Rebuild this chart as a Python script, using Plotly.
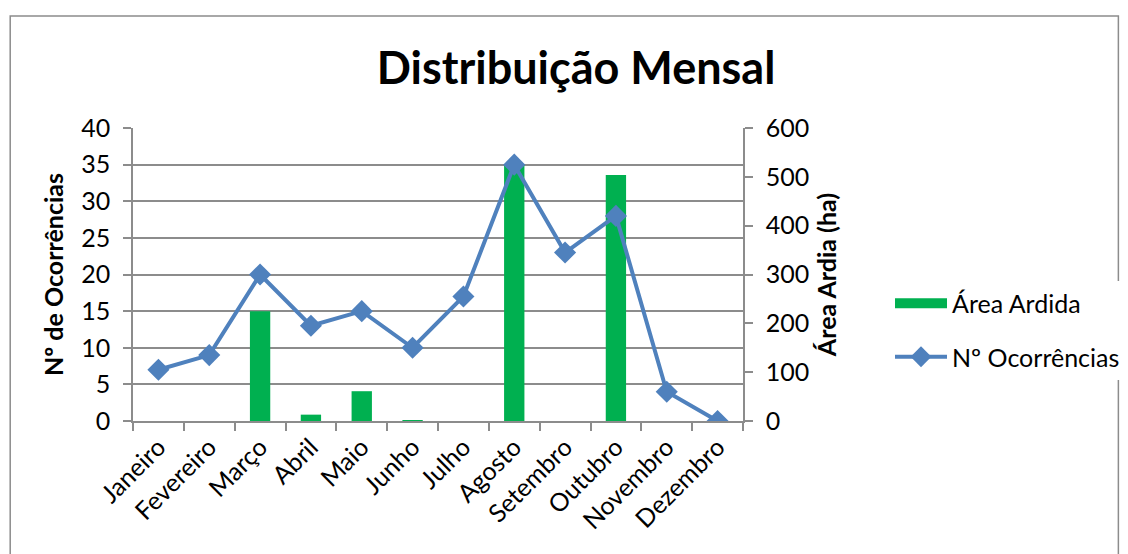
import plotly.graph_objects as go

meses = ["Janeiro", "Fevereiro", "Março", "Abril", "Maio", "Junho", "Julho",
         "Agosto", "Setembro", "Outubro", "Novembro", "Dezembro"]
area_ardida = [0, 0, 225, 13, 61, 1.5, 0, 526, 0, 504, 0, 0]
ocorrencias = [7, 9, 20, 13, 15, 10, 17, 35, 23, 28, 4, 0]

FONT = "Lato"
GRID = "#8c8c8c"
GREEN = "#00b050"
BLUE = "#4f81bd"
FS = 25

fig = go.Figure()
fig.add_trace(go.Bar(x=meses, y=area_ardida, name="Área Ardida",
                     marker=dict(color=GREEN, line=dict(width=0)),
                     width=0.4, yaxis="y", showlegend=False))
# legend entry for the bars, drawn as a wide green swatch
fig.add_trace(go.Scatter(x=[None], y=[None], name="Área Ardida", mode="lines",
                         line=dict(color=GREEN, width=15), yaxis="y",
                         legendgroup="a", hoverinfo="skip"))
fig.add_trace(go.Scatter(x=meses, y=ocorrencias, name="Nº Ocorrências",
                         mode="lines+markers", yaxis="y2", legendgroup="b",
                         line=dict(color=BLUE, width=4),
                         marker=dict(symbol="diamond", size=17, color=BLUE)))

W, H = 1128, 554
OFF = 8  # page body margin
L, R, T, B = 133 - OFF, 744 - OFF, 128 - OFF, 421 - OFF

fig.update_layout(
    width=W, height=H,
    margin=dict(l=L, r=W - R, t=T, b=H - B),
    paper_bgcolor="white", plot_bgcolor="white",
    font=dict(family=FONT, size=FS, color="black"),
    title=dict(text="<b>Distribuição Mensal</b>", x=(576 - OFF) / W, xanchor="center",
               y=1 - (68 - OFF) / H, yanchor="middle",
               font=dict(family=FONT, size=45, color="black")),
    showlegend=True,
    legend=dict(x=(890 - OFF - L) / (R - L), y=(B - (330 - OFF)) / (B - T),
                xanchor="left", yanchor="middle",
                font=dict(family=FONT, size=FS), itemwidth=52,
                tracegroupgap=18, traceorder="grouped"),
    xaxis=dict(range=[-0.5, 11.5], showline=True, linecolor=GRID, linewidth=1.5,
               ticks="outside", ticklen=8, tickcolor=GRID, tickwidth=1.5,
               tickson="boundaries", tickangle=-45, showgrid=False,
               tickfont=dict(size=FS)),
    yaxis=dict(side="right", range=[0, 600], dtick=100, showgrid=False,
               showline=True, linecolor=GRID, linewidth=1.5,
               ticks="outside", ticklen=8, tickcolor=GRID, tickwidth=1.5,
               ticklabelstandoff=8,
               zeroline=False, tickfont=dict(size=FS),
               title=dict(text="<b>Área Ardia (ha)</b>", standoff=10,
                          font=dict(size=FS))),
    yaxis2=dict(side="left", overlaying="y", range=[0, 40], dtick=5,
                showgrid=True, gridcolor=GRID, gridwidth=1.5,
                showline=True, linecolor=GRID, linewidth=1.5,
                ticks="outside", ticklen=8, tickcolor=GRID, tickwidth=1.5,
                ticklabelstandoff=8,
                zeroline=False, tickfont=dict(size=FS),
                title=dict(text="<b>Nº de Ocorrências</b>", standoff=10,
                           font=dict(size=FS))),
)

pw, ph = R - L, B - T
fig.add_shape(type="rect", xref="paper", yref="paper",
              x0=(10 - OFF - L) / pw, x1=(1120 - OFF - L) / pw,
              y0=(B - 700) / ph, y1=(B - (16 - OFF)) / ph,
              line=dict(color="#8c8c8c", width=1.5), layer="below")

fig.write_html("out.html")
